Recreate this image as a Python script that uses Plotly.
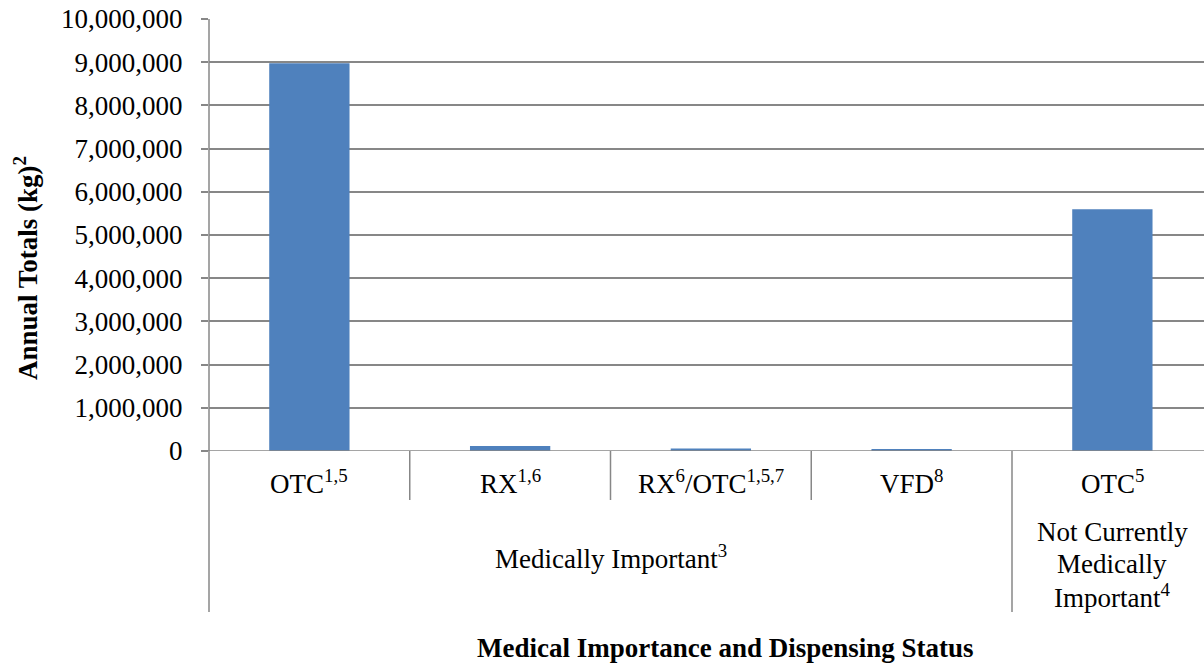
import plotly.graph_objects as go

# ---- data ----
categories = ["OTC<sup>1,5</sup>", "RX<sup>1,6</sup>", "RX<sup>6</sup>/OTC<sup>1,5,7</sup>",
              "VFD<sup>8</sup>", "OTC<sup>5</sup>"]
groups = ["Medically Important<sup>3</sup>", "Not Currently<br>Medically<br>Important<sup>4</sup>"]
group_members = [[0, 1, 2, 3], [4]]
values = [8975000, 115000, 60000, 35000, 5595000]
y_ticks = [0, 1000000, 2000000, 3000000, 4000000, 5000000,
           6000000, 7000000, 8000000, 9000000, 10000000]
y_title = "<b>Annual Totals (kg)<sup>2</sup></b>"
x_title = "<b>Medical Importance and Dispensing Status</b>"

# ---- layout constants (pixels) ----
W, H = 1204, 663
L, T, B = 209, 19, 451
GRID = "#878787"
FONT = "Liberation Serif"
FS = 27

def py(p):
    return (B - p) / (B - T)

def pxf(p):
    return (p - L) / (W - L)

fig = go.Figure()
fig.add_trace(go.Bar(x=categories, y=values, width=0.4,
                     marker=dict(color="#4F81BD", line=dict(width=0)),
                     showlegend=False, hoverinfo="x+y"))

cat_w = 200.75
xr_max = -0.5 + (W - L) / cat_w

fig.update_layout(
    width=W, height=H,
    margin=dict(l=L, r=0, t=T, b=H - B, pad=0),
    paper_bgcolor="white", plot_bgcolor="white",
    font=dict(family=FONT, size=FS, color="black"),
    bargap=0.6,
    xaxis=dict(type="category", range=[-0.5, xr_max], showticklabels=False,
               showgrid=False, zeroline=False, showline=False, ticks=""),
    yaxis=dict(range=[0, 10000000], tickvals=y_ticks, tickformat=",",
               showgrid=True, gridcolor=GRID, gridwidth=1.5,
               zeroline=False, showline=False,
               ticks="outside", ticklen=7, tickcolor=GRID, tickwidth=1.5,
               ticklabelstandoff=13,
               tickfont=dict(family=FONT, size=FS, color="black")),
)

shapes = []
# left axis line extended down through label area
shapes.append(dict(type="line", xref="paper", yref="paper", x0=0, x1=0,
                   y0=1, y1=py(612), line=dict(color=GRID, width=1.5)))
# baseline (zero line) drawn above bars
shapes.append(dict(type="line", xref="paper", yref="y", x0=pxf(202), x1=1,
                   y0=0, y1=0, line=dict(color=GRID, width=1.5)))
# inner dividers
for i in range(len(categories) - 1):
    is_group_border = any(i == g[-1] for g in group_members)
    bottom = 612 if is_group_border else 500
    shapes.append(dict(type="line", xref="x", yref="paper", x0=i + 0.5, x1=i + 0.5,
                       y0=0, y1=py(bottom), line=dict(color=GRID, width=1.5)))
fig.update_layout(shapes=shapes)

ann = []
for c in categories:
    ann.append(dict(x=c, y=py(482), xref="x", yref="paper", text=c, showarrow=False,
                    xanchor="center", yanchor="middle",
                    font=dict(family=FONT, size=FS, color="black")))
# group labels
ann.append(dict(x=1.5, y=py(557), xref="x", yref="paper", text=groups[0], showarrow=False,
                xanchor="center", yanchor="middle",
                font=dict(family=FONT, size=FS, color="black")))
for k, line in enumerate(groups[1].split("<br>")):
    ann.append(dict(x=4, y=py(532 + 32 * k), xref="x", yref="paper", text=line,
                    showarrow=False, xanchor="center", yanchor="middle",
                    font=dict(family=FONT, size=FS, color="black")))
# axis titles
ann.append(dict(x=pxf(725), y=py(648), xref="paper", yref="paper", text=x_title,
                showarrow=False, xanchor="center", yanchor="middle",
                font=dict(family=FONT, size=FS, color="black")))
ann.append(dict(x=pxf(26), y=py(268), xref="paper", yref="paper", text=y_title,
                showarrow=False, xanchor="center", yanchor="middle", textangle=-90,
                font=dict(family=FONT, size=FS, color="black")))
fig.update_layout(annotations=ann)

fig.write_html("out.html",
               config={"displayModeBar": False},
               post_script="document.body.style.margin='0';"
                           "document.body.style.padding='0';"
                           "document.body.style.overflow='hidden';"
                           "document.documentElement.style.overflow='hidden';")
